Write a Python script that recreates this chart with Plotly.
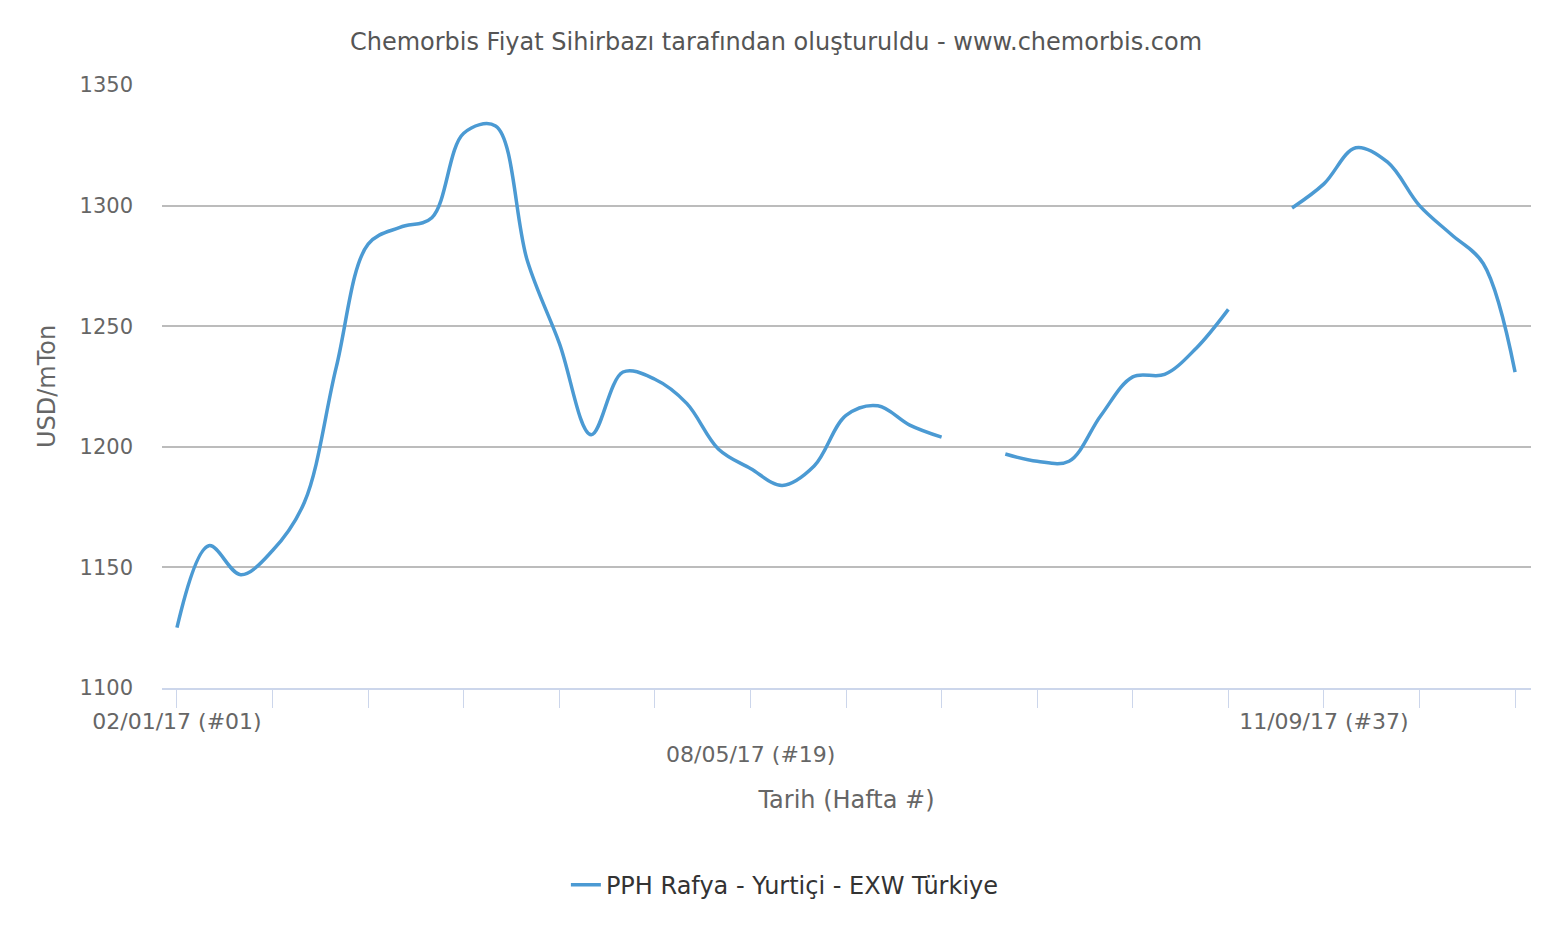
import plotly.graph_objects as go

# Weekly data (week number -> USD/mTon); None = no data that week
weeks = list(range(1, 44))
prices = [1125, 1159, 1147, 1157, 1177, 1233, 1284, 1291, 1295, 1330,
          1333, 1277, 1243, 1205, 1231, 1228, 1218, 1199, 1191, 1184,
          1192, 1213, 1217, 1209, 1204, None, 1197, 1194, 1194, 1213,
          1229, 1230, 1241, 1257, None, 1299, 1309, 1324, 1318, 1300,
          1288, 1276, 1231]

series_name = "PPH Rafya - Yurtiçi - EXW Türkiye"
tick_weeks = list(range(1, 44, 3))
label_weeks = [1, 19, 37]
label_texts = ["02/01/17 (#01)", "08/05/17 (#19)", "11/09/17 (#37)"]
y_ticks = [1100, 1150, 1200, 1250, 1300, 1350]

FONT = "DejaVu Sans"
BLUE = "#4b9ad3"

tick_text = []
for w in tick_weeks:
    if w in label_weeks and label_weeks.index(w) != 1:
        tick_text.append(label_texts[label_weeks.index(w)])
    else:
        tick_text.append("")

fig = go.Figure()
fig.add_trace(go.Scatter(
    x=weeks, y=prices, mode="lines", name=series_name,
    line=dict(color=BLUE, width=3.5, shape="spline", smoothing=1.0),
    connectgaps=False,
))

# page body has an 8px margin, so the figure is offset by 8px
fig.update_layout(
    width=1536, height=914,
    margin=dict(l=154, r=13, t=77, b=234),
    paper_bgcolor="white", plot_bgcolor="white",
    font=dict(family=FONT, color="#666666"),
    title=dict(text="Chemorbis Fiyat Sihirbazı tarafından oluşturuldu - www.chemorbis.com",
               x=0.5, xref="container", xanchor="center",
               y=1 - 34 / 914, yref="container", yanchor="middle",
               font=dict(family=FONT, size=24, color="#555555")),
    showlegend=True,
    legend=dict(orientation="h", x=0.455, xanchor="center", y=-0.327, yanchor="middle",
                font=dict(family=FONT, size=24, color="#333333"),
                itemwidth=30),
)

fig.update_xaxes(
    range=[0.53, 43.5],
    tickmode="array", tickvals=tick_weeks, ticktext=tick_text,
    ticks="outside", ticklen=18, tickcolor="#ccd6eb", tickwidth=1,
    ticklabelstandoff=-5,
    showline=True, linecolor="#ccd6eb", linewidth=2,
    showgrid=False, zeroline=False,
    tickfont=dict(family=FONT, size=22, color="#666666"),
    title=dict(text="Tarih (Hafta #)", standoff=58,
               font=dict(family=FONT, size=24, color="#666666")),
)
fig.update_yaxes(
    range=[1100, 1350], tickmode="array", tickvals=y_ticks,
    showgrid=True, gridcolor="#bcbcbc", gridwidth=1.5,
    zeroline=False, showline=False, ticks="",
    ticklabelstandoff=28,
    tickfont=dict(family=FONT, size=21, color="#666666"),
    title=dict(text="USD/mTon", standoff=17,
               font=dict(family=FONT, size=24, color="#666666")),
)

# staggered middle tick label
fig.add_annotation(
    x=label_weeks[1], xref="x", y=0, yref="paper", yshift=-66,
    text=label_texts[1], showarrow=False, xanchor="center", yanchor="middle",
    font=dict(family=FONT, size=22, color="#666666"),
)

fig.write_html("out.html")
